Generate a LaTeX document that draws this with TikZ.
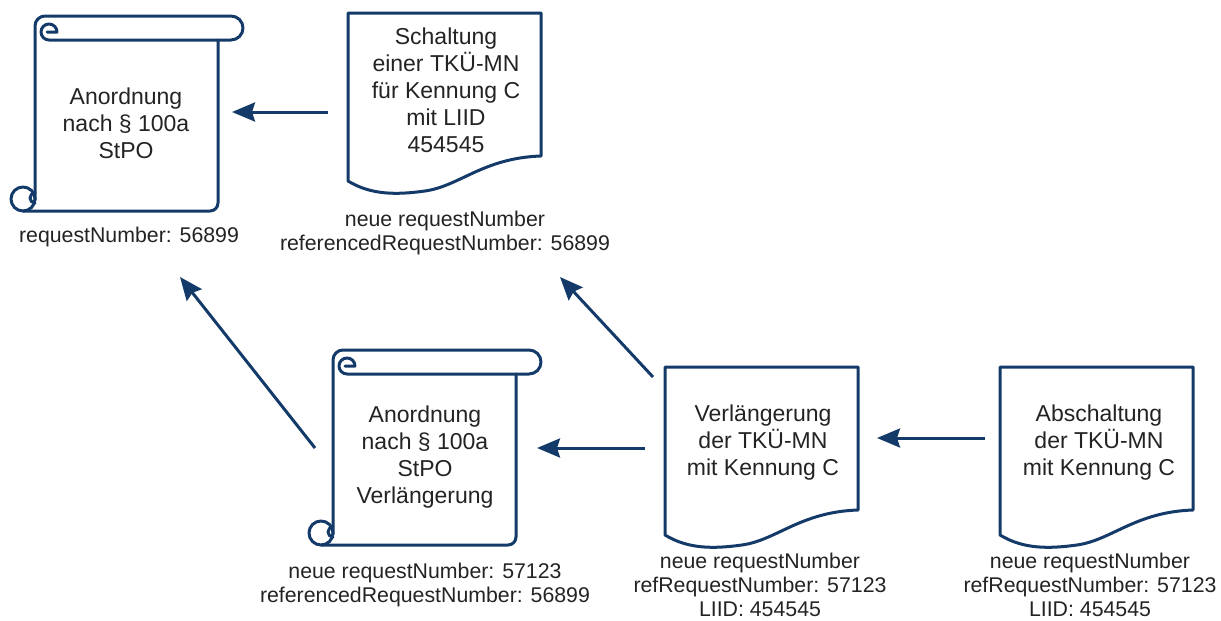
\documentclass[tikz,border=0pt]{standalone}
\usepackage{fontspec}
\setmainfont{Liberation Sans}
\usetikzlibrary{arrows.meta}
\definecolor{lineblue}{RGB}{20,58,105}
\definecolor{txt}{RGB}{35,35,35}
\begin{document}
\begin{tikzpicture}[x=1pt,y=-1pt,
  outline/.style={draw=lineblue, line width=3pt, line join=round, line cap=round},
  arr/.style={draw=lineblue, line width=3pt, -{Stealth[length=23pt,width=19pt,inset=3pt]}},
  maintext/.style={text=txt, align=center, font=\fontsize{23}{27}\selectfont, inner sep=0pt},
  labeltext/.style={text=txt, align=center, font=\fontsize{21.3}{24}\selectfont, inner sep=0pt},
  pics/scrollshape/.style={code={
    \draw[outline] (0,184) -- (0,10) arc[start angle=180, end angle=270, radius=10]
      -- (196,0) arc[start angle=270, end angle=450, radius=12]
      -- (14,24) arc[start angle=90, end angle=360, radius=8] -- (12,16);
    \draw[outline] (183,24) -- (183,187) arc[start angle=0, end angle=90, radius=8] -- (-12,195);
    \draw[outline] (-12,183) circle[radius=12];
    \draw[outline] (0,177) arc[start angle=270, end angle=90, radius=5];
  }},
  pics/docshape/.style={code={
    \draw[outline] (0,168) -- (0,0) -- (193,0) -- (193,143)
      .. controls (135,145) and (112,173) .. (77,178)
      .. controls (48,182) and (23,182) .. (0,168) -- cycle;
  }}]
\useasboundingbox (0,0) rectangle (1221,621);

% shapes
\pic at (35,16) {scrollshape};
\pic at (348,13) {docshape};
\pic at (333,350) {scrollshape};
\pic at (665,367) {docshape};
\pic at (1000,367) {docshape};

% texts
\node[maintext] (s1) at (126,123) {Anordnung\\nach § 100a\\StPO};
\node[labeltext] (s1l) at (129,237) {requestNumber: 56899};
\node[maintext] (d1) at (446,90) {Schaltung\\einer TKÜ-MN\\für Kennung C\\mit LIID\\454545};
\node[labeltext] (d1l) at (445,233) {neue requestNumber\\referencedRequestNumber: 56899};
\node[maintext] (s2) at (425,457) {Anordnung\\nach § 100a\\StPO\\Verlängerung};
\node[labeltext] (s2l) at (425,585) {neue requestNumber: 57123\\referencedRequestNumber: 56899};
\node[maintext] (d2) at (763,443) {Verlängerung\\der TKÜ-MN\\mit Kennung C};
\node[labeltext] (d2l) at (760,585) {neue requestNumber\\refRequestNumber: 57123\\LIID: 454545};
\node[maintext] (d3) at (1099,443) {Abschaltung\\der TKÜ-MN\\mit Kennung C};
\node[labeltext] (d3l) at (1090,585) {neue requestNumber\\refRequestNumber: 57123\\LIID: 454545};

% connector ends
\coordinate (d1out) at (328,112);
\coordinate (s1in) at (232,112);
\coordinate (s2out) at (315,448);
\coordinate (s1inb) at (180,277);
\coordinate (d2outa) at (653,377);
\coordinate (d1in) at (560,277);
\coordinate (d2outb) at (645,448);
\coordinate (s2in) at (537,448);
\coordinate (d3out) at (985,438);
\coordinate (d2in) at (877,438);

\draw[arr] (d1out) -- (s1in);
\draw[arr] (s2out) -- (s1inb);
\draw[arr] (d2outa) -- (d1in);
\draw[arr] (d2outb) -- (s2in);
\draw[arr] (d3out) -- (d2in);
\end{tikzpicture}
\end{document}
